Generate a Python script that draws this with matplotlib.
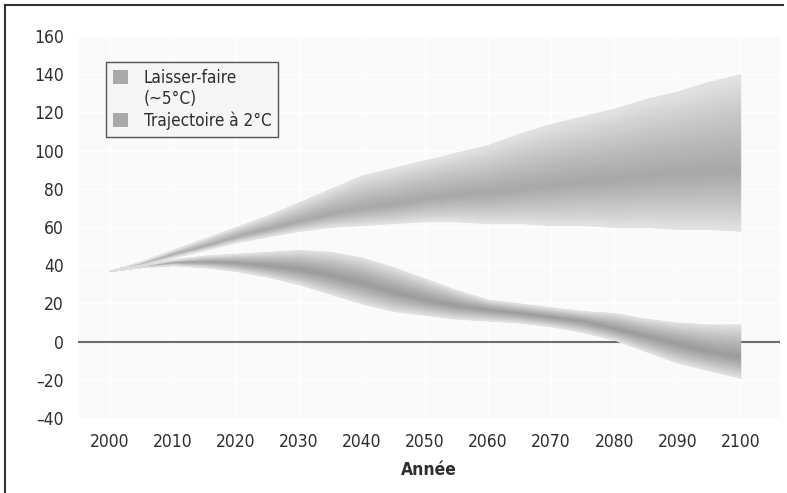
import numpy as np
import matplotlib.pyplot as plt
from matplotlib.patches import Patch
from matplotlib.lines import Line2D

plt.rcParams['font.family'] = ['DejaVu Sans']
plt.rcParams['font.stretch'] = 'condensed'

annees = [2000, 2005, 2010, 2015, 2020, 2025, 2030, 2035, 2040, 2045, 2050,
          2055, 2060, 2065, 2070, 2075, 2080, 2085, 2090, 2095, 2100]

# Laisser-faire (~5°C) : bornes haute/basse et coeur de l'éventail
lf_haut = [37, 42, 48, 54, 60, 66, 73, 80, 87, 91, 95, 99, 103, 109, 114, 118, 122, 127, 131, 136, 140]
lf_bas = [37, 40, 44, 48, 52, 55, 58, 60, 61, 62, 63, 63, 62, 62, 61, 61, 60, 60, 59, 59, 58]
lf_centre = [37, 41, 46, 50, 55, 59, 63, 67, 70, 72, 75, 77, 78, 80, 82, 84, 85, 87, 88, 89, 90]

# Trajectoire à 2°C
tr_haut = [37, 40, 43, 45, 46, 47, 48, 47, 44, 39, 33, 27, 22, 20, 18, 16, 15, 12, 10, 9, 9]
tr_bas = [37, 39, 40, 39, 37, 34, 30, 25, 20, 16, 14, 12, 11, 10, 8, 5, 1, -5, -11, -15, -19]
tr_centre = [37, 39.5, 41.5, 42, 41.5, 40, 38, 35, 31, 26, 22, 19, 17, 15, 13, 11, 7, 3, -1, -5, -8]

x_ticks = list(range(2000, 2101, 10))
y_ticks = list(range(-40, 161, 20))
legende = ['Laisser-faire', '(~5°C)', 'Trajectoire à 2°C']


def eventail(ax, x, bas, centre, haut, fonce=0.64, clair=0.88, n=24):
    x = np.array(x)
    bas, centre, haut = np.array(bas), np.array(centre), np.array(haut)
    # bandes successives du centre vers les bords, de plus en plus claires
    for i in range(n):
        f0, f1 = i / n, (i + 1) / n
        g = fonce + (clair - fonce) * ((f0 + f1) / 2) ** 1.2
        c = (g, g, g)
        ax.fill_between(x, centre + f0 * (haut - centre), centre + f1 * (haut - centre),
                        color=c, lw=0.6, edgecolor=c, zorder=3)
        ax.fill_between(x, centre - f0 * (centre - bas), centre - f1 * (centre - bas),
                        color=c, lw=0.6, edgecolor=c, zorder=3)


fig = plt.figure(figsize=(7.87, 4.93), dpi=100)
ax = fig.add_axes([78 / 787, 1 - 418 / 493, 702 / 787, 382 / 493])
ax.set_facecolor('#fafafa')

eventail(ax, annees, lf_bas, lf_centre, lf_haut, fonce=0.66, clair=0.89)
eventail(ax, annees, tr_bas, tr_centre, tr_haut, fonce=0.61, clair=0.88)

ax.axhline(0, color='#6e6e6e', lw=1.5, zorder=2)

ax.set_xlim(1995.0, 2106.3)
ax.set_ylim(-40, 160)
ax.set_xticks(x_ticks)
ax.set_yticks(y_ticks)
ax.set_yticklabels([str(v).replace('-', '\u2013') for v in y_ticks])
ax.grid(True, color='white', lw=1.0, zorder=1)
ax.set_axisbelow(True)
for s in ax.spines.values():
    s.set_visible(False)
ax.tick_params(length=0, labelsize=12.5, labelcolor='#2e2e2e')
ax.tick_params(axis='x', pad=11)
ax.tick_params(axis='y', pad=10)
ax.set_xlabel('Année', fontsize=12.5, fontweight='bold', color='#2e2e2e', labelpad=7)

# la deuxième ligne de la première entrée n'a pas de carré
poignees = [Patch(facecolor='#a9a9a9', edgecolor='none'),
            Patch(facecolor='none', edgecolor='none'),
            Patch(facecolor='#a9a9a9', edgecolor='none')]
leg = ax.legend(poignees, legende, loc='upper left', bbox_to_anchor=(0.04, 0.932),
                borderaxespad=0, fontsize=12.3, frameon=True, fancybox=False,
                handlelength=0.9, handleheight=0.9, handletextpad=0.9,
                borderpad=0.4, labelspacing=0.2)
leg.get_frame().set_facecolor('#f6f6f6')
leg.get_frame().set_edgecolor('#555555')
leg.get_frame().set_linewidth(1.0)
leg.get_frame().set_alpha(1)
for t in leg.get_texts():
    t.set_color('#2e2e2e')

# cadre partiel de la page
fig.add_artist(Line2D([5 / 787, 5 / 787], [0, 1 - 5 / 493], color='#333333', lw=1.5))
fig.add_artist(Line2D([5 / 787, 783 / 787], [1 - 5 / 493, 1 - 5 / 493], color='#333333', lw=1.5))

fig.savefig('out.png', dpi=100)
